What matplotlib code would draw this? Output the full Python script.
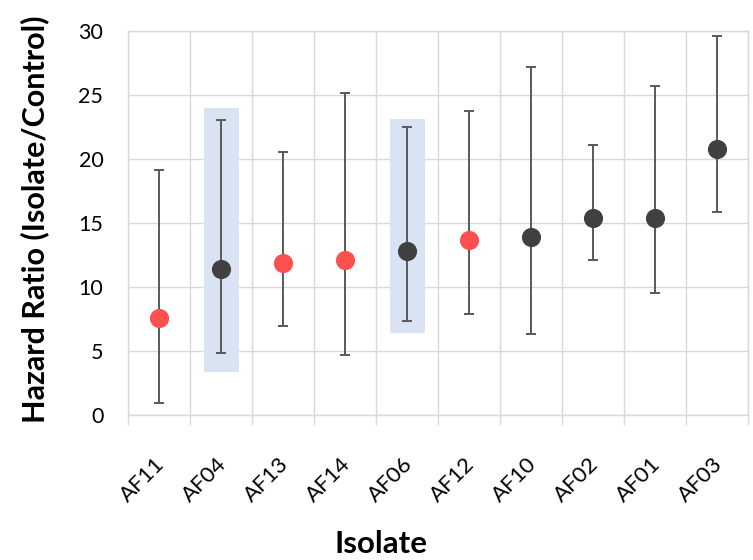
import matplotlib
matplotlib.use("Agg")
import matplotlib.pyplot as plt
import matplotlib.transforms as mtransforms
import numpy as np

plt.rcParams['font.family'] = ['Lato', 'DejaVu Sans']

isolates = ["AF11", "AF04", "AF13", "AF14", "AF06", "AF12", "AF10", "AF02", "AF01", "AF03"]
hazard = [7.55, 11.38, 11.85, 12.08, 12.81, 13.65, 13.88, 15.36, 15.36, 20.78]
ci_low = [0.94, 4.84, 6.98, 4.69, 7.32, 7.89, 6.35, 12.13, 9.56, 15.88]
ci_high = [19.14, 23.05, 20.52, 25.18, 22.50, 23.75, 27.21, 21.09, 25.68, 29.58]
highlight = [True, False, True, True, False, True, False, False, False, False]
box_isolates = ["AF04", "AF06"]
box_low = [3.39, 6.43]
box_high = [23.98, 23.13]
yticks = [0, 5, 10, 15, 20, 25, 30]

RED = "#FF4F4F"
DARK = "#404040"
GRID = "#D9D9D9"

fig = plt.figure(figsize=(7.53, 5.60), dpi=100)
ax = fig.add_axes([128.3 / 753, 145 / 560, 620 / 753, 384 / 560])

x = np.arange(len(isolates))

# highlight boxes
bx = [isolates.index(n) for n in box_isolates]
ax.bar(bx, np.array(box_high) - np.array(box_low), bottom=box_low, width=0.56,
       color="#DAE3F3", zorder=1, linewidth=0)

# error bars
hz = np.array(hazard)
yerr = np.vstack([hz - np.array(ci_low), np.array(ci_high) - hz])
ax.errorbar(x, hz, yerr=yerr, fmt='none', ecolor="#595959", elinewidth=1.4,
            capsize=3.8, capthick=1.4, zorder=3)

colors = [RED if h else DARK for h in highlight]
for xi, yi, c in zip(x, hz, colors):
    ax.plot(xi, yi, 'o', color=c, markersize=13.8, markeredgewidth=0, zorder=4)

ax.set_xlim(-0.5, len(isolates) - 0.5)
ax.set_ylim(0, 30)
ax.set_yticks(yticks)
ax.set_yticklabels([str(t) for t in yticks])
ax.set_xticks(x)
ax.set_xticklabels(isolates, rotation=45, ha='right', rotation_mode='anchor')
ax.set_xticks(np.arange(-0.5, len(isolates)), minor=True)

ax.tick_params(axis='x', which='major', length=0, pad=21, labelsize=16, labelcolor='#000000')
ax.tick_params(axis='x', which='minor', length=7, width=1.0, color=GRID, direction='out')
ax.tick_params(axis='y', which='major', length=0, pad=18, labelsize=15.5, labelcolor='#000000')

offset = mtransforms.ScaledTranslation(-5 / 100, -10 / 100, fig.dpi_scale_trans)
for lbl in ax.get_xticklabels():
    lbl.set_transform(lbl.get_transform() + offset)

ax.grid(True, axis='y', which='major', color=GRID, linewidth=1.0, zorder=0)
ax.grid(True, axis='x', which='minor', color=GRID, linewidth=1.0, zorder=0)
ax.grid(False, axis='x', which='major')
ax.set_axisbelow(True)
for s in ax.spines.values():
    s.set_color(GRID)
    s.set_linewidth(1.0)

ax.set_ylabel("Hazard Ratio (Isolate/Control)", fontsize=22, fontweight='bold')
ax.yaxis.set_label_coords(-0.128, 0.51)
ax.set_xlabel("Isolate", fontsize=22.5, fontweight='bold')
ax.xaxis.set_label_coords(0.4076, -0.30)

fig.savefig("out.png", dpi=100)
